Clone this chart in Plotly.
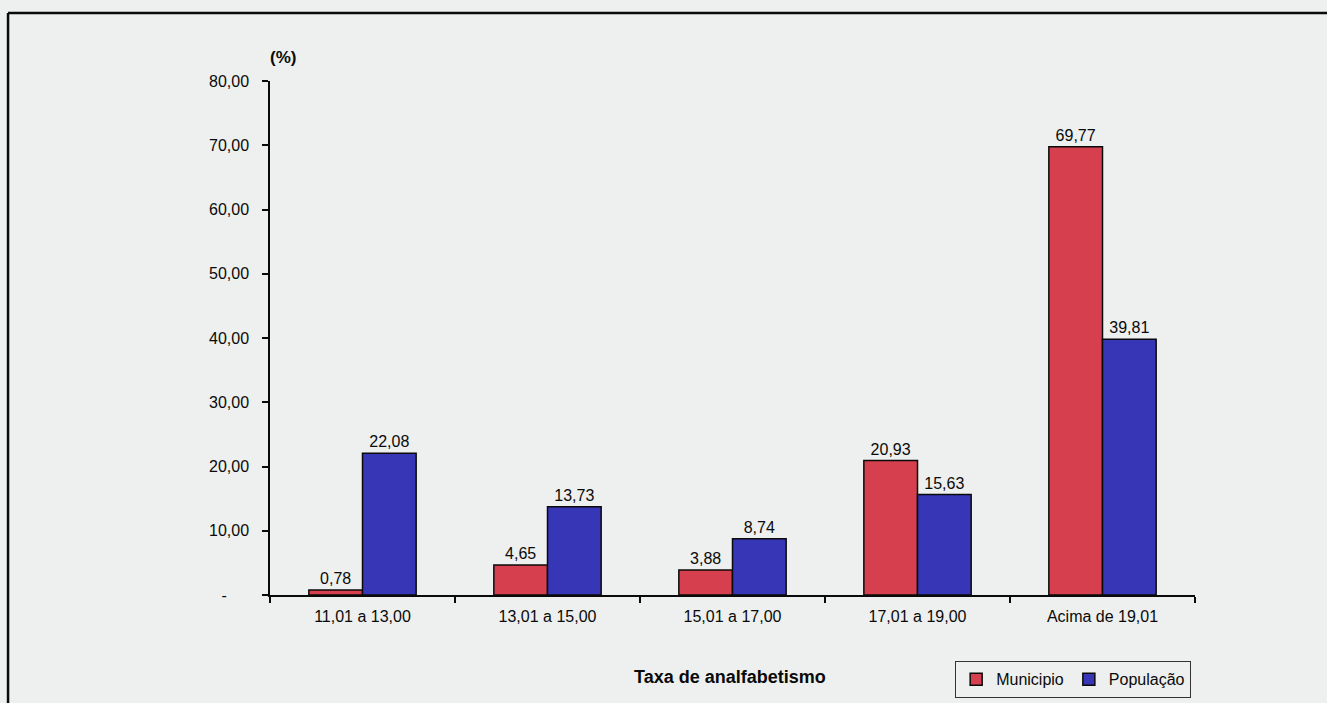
import plotly.graph_objects as go

categories = ["11,01 a 13,00", "13,01 a 15,00", "15,01 a 17,00", "17,01 a 19,00", "Acima de 19,01"]
municipio = [0.78, 4.65, 3.88, 20.93, 69.77]
populacao = [22.08, 13.73, 8.74, 15.63, 39.81]
y_tickvals = [0, 10, 20, 30, 40, 50, 60, 70, 80]
y_ticktext = ["-\u00a0\u00a0\u00a0\u00a0\u00a0", "10,00", "20,00", "30,00", "40,00", "50,00", "60,00", "70,00", "80,00"]

FONT = "Liberation Sans, Arial, sans-serif"
BG = "#edf0ee"
INK = "#0a0a0a"

fig = go.Figure()
fig.add_trace(go.Bar(
    name="Municipio", x=categories, y=municipio,
    marker=dict(color="#d6404e", line=dict(color=INK, width=1.5)),
    texttemplate="%{y:.2f}", textposition="outside", cliponaxis=False,
    textfont=dict(family=FONT, size=16, color=INK),
))
fig.add_trace(go.Bar(
    name="População", x=categories, y=populacao,
    marker=dict(color="#3636b6", line=dict(color=INK, width=1.5)),
    texttemplate="%{y:.2f}", textposition="outside", cliponaxis=False,
    textfont=dict(family=FONT, size=16, color=INK),
))

fig.update_layout(
    width=1327, height=703,
    paper_bgcolor=BG, plot_bgcolor=BG,
    margin=dict(l=270, r=132, t=81, b=108, autoexpand=False),
    barmode="group", bargap=0.42, bargroupgap=0,
    separators=",.",
    font=dict(family=FONT, size=16, color=INK),
    showlegend=True,
    legend=dict(
        orientation="h", x=0.7405, y=-0.1285, xanchor="left", yanchor="top",
        bordercolor="#333333", borderwidth=1.2, bgcolor=BG,
        font=dict(family=FONT, size=16, color=INK),
        itemwidth=30, traceorder="normal",
    ),
    xaxis=dict(
        showline=True, linecolor=INK, linewidth=1.5,
        ticks="outside", ticklen=6, tickcolor=INK, tickwidth=1.5,
        tickson="boundaries", showgrid=False, ticklabelstandoff=6,
        tickfont=dict(family=FONT, size=16, color=INK),
    ),
    yaxis=dict(
        range=[0, 80], tickvals=y_tickvals, ticktext=y_ticktext,
        showline=True, linecolor=INK, linewidth=1.5,
        ticks="outside", ticklen=6, tickcolor=INK, tickwidth=1.5,
        ticklabelstandoff=10,
        showgrid=False, zeroline=False,
        tickfont=dict(family=FONT, size=16, color=INK),
    ),
    annotations=[
        dict(text="<b>Taxa de analfabetismo</b>", xref="paper", yref="paper",
             x=0.497, y=-0.1595, xanchor="center", yanchor="middle", showarrow=False,
             font=dict(family=FONT, size=18, color=INK)),
        dict(text="<b>(%)</b>", xref="paper", yref="paper",
             x=0.014, y=1.045, xanchor="center", yanchor="middle", showarrow=False,
             font=dict(family=FONT, size=17, color=INK)),
    ],
    shapes=[
        dict(type="line", xref="paper", yref="paper", x0=-0.2832, x1=-0.2832, y0=-0.22, y1=1.1323,
             line=dict(color=INK, width=2.5)),
        dict(type="line", xref="paper", yref="paper", x0=-0.2832, x1=1.15, y0=1.1323, y1=1.1323,
             line=dict(color=INK, width=2.5)),
    ],
)

fig.write_html(
    "out.html",
    config={"displayModeBar": False},
    post_script="document.body.style.margin='0';document.body.style.overflow='hidden';document.body.style.background='" + BG + "';",
)
